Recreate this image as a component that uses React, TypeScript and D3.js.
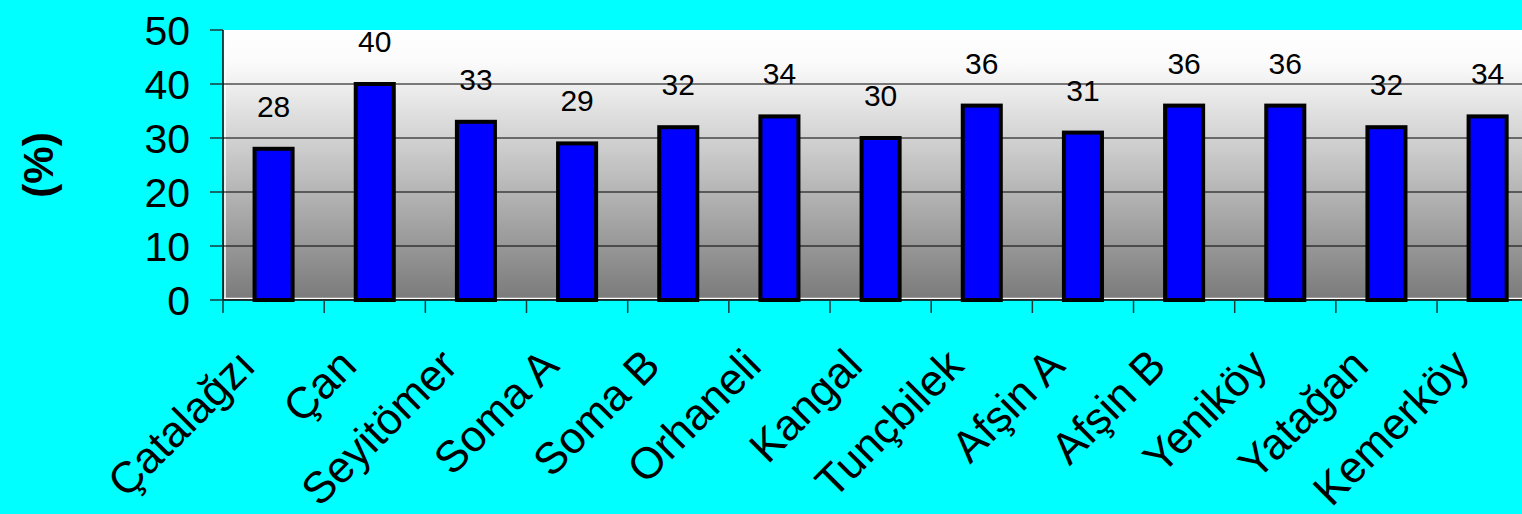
import React from "react";
import * as d3 from "d3";

// Plant names and their percentages
const plants = [
  "Çatalağzı",
  "Çan",
  "Seyitömer",
  "Soma A",
  "Soma B",
  "Orhaneli",
  "Kangal",
  "Tunçbilek",
  "Afşin A",
  "Afşin B",
  "Yeniköy",
  "Yatağan",
  "Kemerköy",
];
const percents = [28, 40, 33, 29, 32, 34, 30, 36, 31, 36, 36, 32, 34];
const yTicks = [0, 10, 20, 30, 40, 50];

const W = 1522;
const H = 514;
const FONT = "'Liberation Sans', Arial, sans-serif";

export default function App() {
  const left = 223;
  const step = 101.17;
  const right = left + step * plants.length;
  const top = 30;
  const bottom = 300;

  const x = d3.scaleBand<string>().domain(plants).range([left, right]).padding(0);
  const y = d3.scaleLinear().domain([0, 50]).range([bottom, top]);
  const barW = x.bandwidth() * 0.376;

  const boundaries = d3.range(plants.length + 1).map((i) => left + i * x.step());

  return (
    <svg
      width={W}
      height={H}
      style={{ position: "fixed", left: 0, top: 0, display: "block" }}
      fontFamily={FONT}
    >
      <defs>
        <linearGradient id="plotFill" x1="0" y1="0" x2="0" y2="1">
          <stop offset="0" stopColor="#ffffff" />
          <stop offset="0.12" stopColor="#fbfbfb" />
          <stop offset="1" stopColor="#7a7a7a" />
        </linearGradient>
      </defs>
      <rect x={0} y={0} width={W} height={H} fill="#00ffff" />

      {/* plot area */}
      <rect x={left} y={top} width={right - left} height={bottom - top} fill="url(#plotFill)" />
      <line x1={left + 2} x2={left + 2} y1={top} y2={bottom - 1} stroke="#ffffff" strokeWidth={1.5} />
      <line x1={left} x2={right} y1={bottom - 1.5} y2={bottom - 1.5} stroke="#ffffff" strokeWidth={1.5} />

      {/* gridlines */}
      {yTicks
        .filter((t) => t > 0 && t < 50)
        .map((t) => (
          <line key={t} x1={left} x2={right} y1={y(t)} y2={y(t)} stroke="#000" strokeWidth={1.2} />
        ))}

      {/* bars */}
      {plants.map((p, i) => {
        const cx = (x(p) as number) + x.bandwidth() / 2;
        return (
          <rect
            key={p}
            x={cx - barW / 2}
            y={y(percents[i])}
            width={barW}
            height={bottom - y(percents[i])}
            fill="#0000ff"
            stroke="#000"
            strokeWidth={4}
          />
        );
      })}

      {/* value labels */}
      {plants.map((p, i) => {
        const cx = (x(p) as number) + x.bandwidth() / 2;
        return (
          <text key={p} x={cx} y={y(percents[i]) - 32} fontSize={30} textAnchor="middle" fill="#000">
            {percents[i]}
          </text>
        );
      })}

      {/* y axis */}
      <line x1={left} x2={left} y1={top} y2={bottom} stroke="#000" strokeWidth={1.5} />
      {yTicks.map((t) => (
        <g key={t}>
          <line x1={left - 13} x2={left} y1={y(t)} y2={y(t)} stroke="#1a3a3a" strokeWidth={1.5} />
          <text x={190} y={y(t)} dy="0.355em" fontSize={41} textAnchor="end" fill="#000">
            {t}
          </text>
        </g>
      ))}

      {/* x axis */}
      <line x1={left} x2={right} y1={bottom} y2={bottom} stroke="#000" strokeWidth={1.5} />
      {boundaries.map((bx, i) => (
        <line key={i} x1={bx} x2={bx} y1={bottom} y2={bottom + 13} stroke="#1a3a3a" strokeWidth={1.5} />
      ))}
      {plants.map((p) => {
        const cx = (x(p) as number) + x.bandwidth() / 2 - 16;
        const ty = 368;
        return (
          <text
            key={p}
            x={cx}
            y={ty}
            fontSize={44}
            textAnchor="end"
            fill="#000"
            transform={`rotate(-45 ${cx} ${ty})`}
          >
            {p}
          </text>
        );
      })}

      {/* axis title */}
      <text
        x={0}
        y={0}
        fontSize={42}
        fontWeight="bold"
        textAnchor="middle"
        dy="0.35em"
        transform="translate(38 165) rotate(-90)"
        fill="#000"
      >
        (%)
      </text>
    </svg>
  );
}
